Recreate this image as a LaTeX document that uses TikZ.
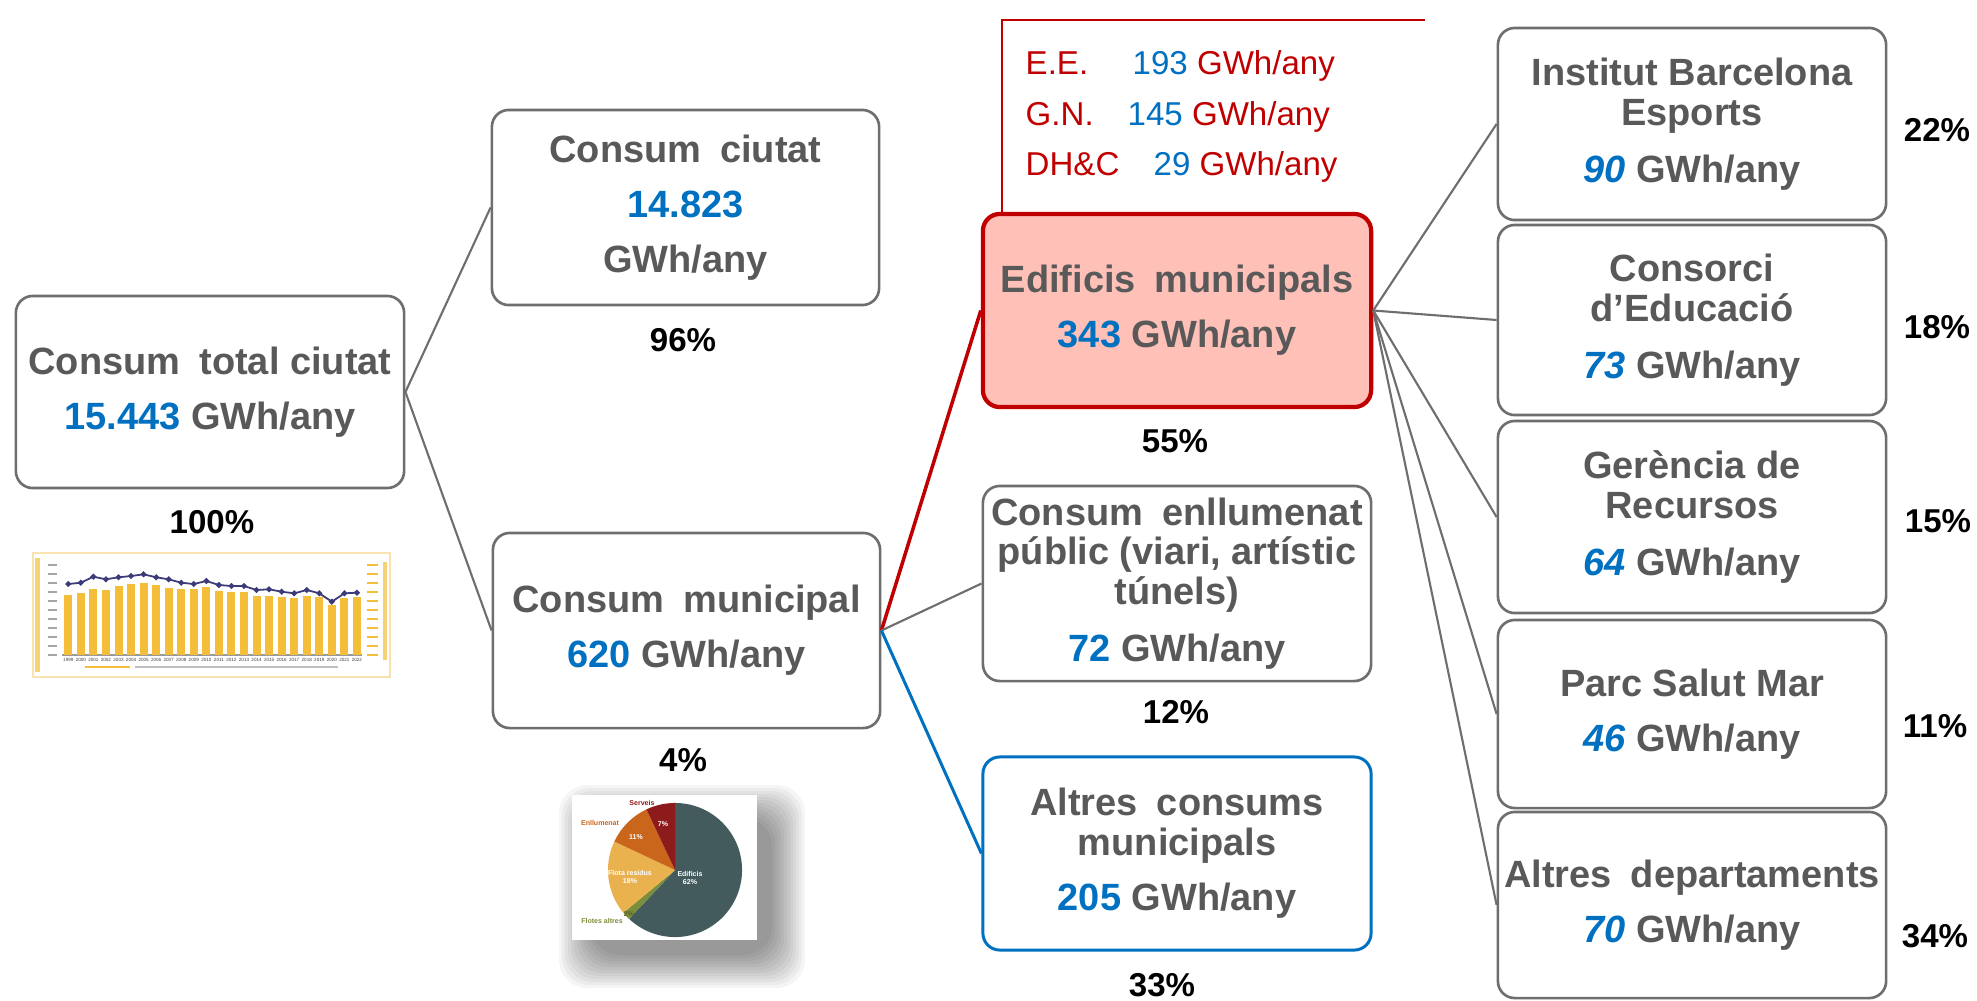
\documentclass[tikz,border=0pt]{standalone}
\usepackage{fontspec}
\setmainfont{Liberation Sans}
\definecolor{boxgray}{HTML}{6E6E6E}
\definecolor{txtgray}{HTML}{595959}
\definecolor{numblue}{HTML}{0070C0}
\definecolor{darkred}{HTML}{C00000}
\definecolor{pinkfill}{HTML}{FFC0B8}
\definecolor{linegray}{HTML}{6E6E6E}
\definecolor{bargold}{HTML}{F4BE3A}
\definecolor{navyline}{HTML}{3B3B7A}
\definecolor{chartframe}{HTML}{F8E2B0}
\definecolor{slate}{HTML}{435B5D}
\definecolor{olive}{HTML}{7B8E3B}
\definecolor{lightor}{HTML}{E9B24F}
\definecolor{burnt}{HTML}{C9661C}
\definecolor{maroon}{HTML}{8E1B1B}
\newcommand{\nb}[1]{{\color{numblue}#1}}
\newcommand{\nbi}[1]{{\color{numblue}\itshape #1}}
\newcommand{\wsp}{\hspace{0.5em}}
\tikzset{
  box/.style={draw=boxgray, line width=0.75pt, rounded corners=4.8pt, fill=white, align=center,
    text=txtgray, font=\bfseries\fontsize{10.8}{15.6}\selectfont, inner sep=0pt,
    minimum width=3.88cm},
  redbox/.style={box, draw=darkred, fill=pinkfill, line width=1.2pt},
  bluebox/.style={box, draw=numblue, line width=0.85pt},
  pct/.style={font=\bfseries\fontsize{9.4}{11}\selectfont, text=black, inner sep=0pt},
  leg/.style={font=\fontsize{9.4}{11}\selectfont, text=darkred, inner sep=0pt, anchor=base west},
  conn/.style={draw=linegray, line width=0.6pt},
  redconn/.style={draw=darkred, line width=1pt},
  blueconn/.style={draw=numblue, line width=0.85pt},
  pielbl/.style={font=\bfseries\fontsize{2}{2.4}\selectfont, inner sep=0pt, align=center},
  yearlbl/.style={font=\fontsize{1.3}{1.5}\selectfont, text=black!75, inner sep=0pt}
}
\begin{document}
\begin{tikzpicture}[x=0.01cm,y=-0.01cm]
\useasboundingbox (0,0) rectangle (1977,1000);
\fill[white] (0,0) rectangle (1977,1000);

% ---- main boxes
\node[box, minimum width=3.88cm, minimum height=1.92cm] (tot) at (210,392)
  {Consum\wsp total ciutat\\ \nb{15.443} GWh/any};
\node[box, minimum width=3.87cm, minimum height=1.95cm] (ciu) at (685.5,207.5)
  {Consum\wsp ciutat\\ \nb{14.823}\\ GWh/any};
\node[box, minimum width=3.87cm, minimum height=1.95cm] (mun) at (686.5,630.5)
  {Consum\wsp municipal\\ \nb{620} GWh/any};
\node[redbox, minimum height=1.93cm] (edi) at (1177,310.5)
  {Edificis\wsp municipals\\ \nb{343} GWh/any};
\node[box, minimum height=1.95cm] (enl) at (1177,583.5)
  {Consum\wsp enllumenat\\[-4.4pt] públic (viari, artístic\\[-4.4pt] túnels)\\[0.6pt] \nb{72} GWh/any};
\node[bluebox, minimum height=1.93cm] (alt) at (1177,853.5)
  {Altres\wsp consums\\[-4.2pt] municipals\\ \nb{205} GWh/any};

% ---- right column
\node[box, minimum height=1.92cm] (ibe) at (1692,124)
  {Institut Barcelona\\[-4.2pt] Esports\\[0.6pt] \nbi{90} GWh/any};
\node[box, minimum height=1.90cm] (cons) at (1692,320)
  {Consorci\\[-4.2pt] d’Educació\\[0.6pt] \nbi{73} GWh/any};
\node[box, minimum height=1.92cm] (ger) at (1692,517)
  {Gerència de\\[-4.2pt] Recursos\\[0.6pt] \nbi{64} GWh/any};
\node[box, minimum height=1.88cm] (psm) at (1692,714)
  {Parc Salut Mar\\ \nbi{46} GWh/any};
\node[box, minimum height=1.86cm] (ald) at (1692,905)
  {Altres\wsp departaments\\ \nbi{70} GWh/any};

% ---- percentages
\node[pct] (p100) at (212,522) {100\%};
\node[pct] (p96) at (683,340) {96\%};
\node[pct] (p4) at (683,760) {4\%};
\node[pct] (p55) at (1175,441) {55\%};
\node[pct] (p12) at (1176,712) {12\%};
\node[pct] (p33) at (1162,985) {33\%};
\node[pct] (p22) at (1937,130) {22\%};
\node[pct] (p18) at (1937,327) {18\%};
\node[pct] (p15) at (1938,521) {15\%};
\node[pct] (p11) at (1935,726) {11\%};
\node[pct] (p34) at (1935,936) {34\%};

% ---- legend above Edificis
\coordinate (lgA) at (1002,213);
\coordinate (lgB) at (1425,20);
\draw[darkred, line width=0.75pt] (lgA) |- (lgB);
\node[leg] (l1a) at (1025,74) {E.E.};
\node[leg] (l1b) at (1132,74) {\nb{193} GWh/any};
\node[leg] (l2a) at (1025,125) {G.N.};
\node[leg] (l2b) at (1127,125) {\nb{145} GWh/any};
\node[leg] (l3a) at (1025,175) {DH\&C};
\node[leg] (l3b) at (1153,175) {\nb{29} GWh/any};

% ---- connectors
\draw[conn] (tot.east) -- (ciu.west);
\draw[conn] (tot.east) -- (mun.west);
\draw[redconn] (mun.east) -- (edi.west);
\draw[conn] (mun.east) -- (enl.west);
\draw[blueconn] (mun.east) -- (alt.west);
\foreach \n in {ibe,cons,ger,psm,ald} \draw[conn] (edi.east) -- (\n.west);

% ---- bar chart picture
\node[draw=chartframe, line width=0.4pt, fill=white, minimum width=3.57cm, minimum height=1.24cm, inner sep=0pt] (chart) at (211.5,615) {};
\fill[bargold!70] (35,558) rectangle (40,672);
\fill[bargold!70] (383,562) rectangle (387,660);
\foreach \yy in {565,574,583,592,601,610,619,628,637,646,655}{
  \draw[black!35, line width=0.3pt] (48,\yy) -- (57,\yy);
  \draw[bargold, line width=0.3pt] (367,\yy) -- (378,\yy);
}
\draw[black!40, line width=0.3pt] (62,655) -- (362,655);
\foreach \t [count=\i from 0] in {595,593.3,589.3,590,586,584,583.3,585,588.3,589.3,589.3,586.7,591,592.3,592.3,596,596,597.3,598.3,596,597.3,605,598.3,597.3}{
  \pgfmathsetmacro\xx{68.3+12.55*\i}
  \pgfmathtruncatemacro\yr{1999+\i}
  \fill[bargold] (\xx-4,\t) rectangle (\xx+4,655);
  \node[yearlbl] at (\xx,660) {\yr};
}
\draw[navyline, line width=0.5pt] plot[mark=*, mark size=0.55pt] coordinates {
 (68.3,584) (80.85,582.7) (93.4,576.7) (105.95,579.3) (118.5,577.3) (131.05,576) (143.6,574.3)
 (156.15,577.3) (168.7,579.3) (181.25,582.7) (193.8,584) (206.35,581) (218.9,585) (231.45,586)
 (244,586) (256.55,590) (269.1,589.3) (281.65,591.7) (294.2,593.3) (306.75,590) (319.3,593.3)
 (331.85,601.7) (344.4,593.3) (356.95,592.7)};
\draw[bargold, line width=0.8pt] (85,667) -- (130,667);
\draw[black!25, line width=0.8pt] (135,667) -- (338,667);

% ---- pie chart picture with soft shadow
\foreach \k in {0,...,11}{
  \fill[black, opacity=0.04, rounded corners=8pt] (592-3*\k,818-3*\k) rectangle (772+3*\k,955+3*\k);
}
\node[fill=white, minimum width=1.85cm, minimum height=1.45cm, inner sep=0pt] (pieimg) at (664.5,867.5) {};
\coordinate (pc) at (675,870);
\fill[slate] (pc) -- ++(90:0.67cm) arc[start angle=90, end angle=-133.2, radius=0.67cm] -- cycle;
\fill[olive] (pc) -- ++(-133.2:0.67cm) arc[start angle=-133.2, end angle=-140.4, radius=0.67cm] -- cycle;
\fill[lightor] (pc) -- ++(-140.4:0.67cm) arc[start angle=-140.4, end angle=-205.2, radius=0.67cm] -- cycle;
\fill[burnt] (pc) -- ++(-205.2:0.67cm) arc[start angle=-205.2, end angle=-244.8, radius=0.67cm] -- cycle;
\fill[maroon] (pc) -- ++(-244.8:0.67cm) arc[start angle=-244.8, end angle=-270, radius=0.67cm] -- cycle;
\node[pielbl, text=maroon] (lsv) at (642,803) {Serveis};
\node[pielbl, text=burnt] (len) at (600,823) {Enllumenat};
\node[pielbl, text=white] (l11) at (636,837) {11\%};
\node[pielbl, text=white] (l7) at (663,824) {7\%};
\node[pielbl, text=white] (lfr) at (630,877) {Flota residus\\18\%};
\node[pielbl, text=white] (led) at (690,878) {Edificis\\62\%};
\node[pielbl, text=olive] (lfa) at (602,921) {Flotes altres};
\node[pielbl, text=olive!70!black] (l2) at (629,914) {2\%};
\end{tikzpicture}
\end{document}
